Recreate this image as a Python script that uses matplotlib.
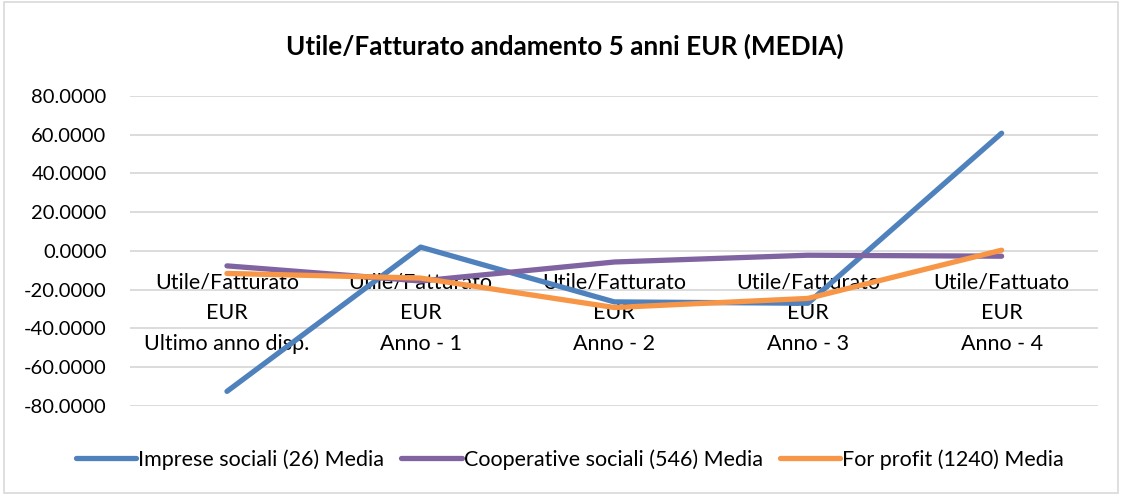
import matplotlib
matplotlib.use("Agg")
import matplotlib.pyplot as plt
from matplotlib.patches import Rectangle
from matplotlib.ticker import FuncFormatter

plt.rcParams['font.family'] = ['Lato', 'DejaVu Sans']

categories = [
    "Utile/Fatturato\nEUR\nUltimo anno disp.",
    "Utile/Fatturato\nEUR\nAnno - 1",
    "Utile/Fatturato\nEUR\nAnno - 2",
    "Utile/Fatturato\nEUR\nAnno - 3",
    "Utile/Fattuato\nEUR\nAnno - 4",
]
imprese = [-72.5, 2.0, -26.3, -27.0, 60.8]
cooperative = [-7.7, -15.5, -5.7, -2.2, -2.7]
for_profit = [-11.6, -14.0, -29.2, -24.5, 0.4]
series_names = ["Imprese sociali (26) Media", "Cooperative sociali (546) Media", "For profit (1240) Media"]
colors = ["#4F81BD", "#8064A2", "#F79646"]
yticks = [-80, -60, -40, -20, 0, 20, 40, 60, 80]

fig = plt.figure(figsize=(11.22, 4.95), dpi=100)
ax = fig.add_axes([0.116, 0.180, 0.863, 0.626])

x = list(range(len(categories)))
for vals, name, c in zip([imprese, cooperative, for_profit], series_names, colors):
    ax.plot(x, vals, color=c, lw=3.8, solid_capstyle='round', solid_joinstyle='round', label=name, zorder=3)

ax.set_xlim(-0.5, len(categories) - 0.5)
ax.set_ylim(-80, 80)
ax.set_yticks(yticks)
ax.yaxis.set_major_formatter(FuncFormatter(lambda v, p: f"{v:.4f}"))
ax.tick_params(axis='y', length=0, labelsize=14.5, pad=17, colors='#000000')
ax.set_xticks([])
ax.grid(axis='y', color='#D9D9D9', lw=1.3, zorder=0)
for s in ax.spines.values():
    s.set_visible(False)

for xi, lab in zip(x, categories):
    ax.annotate(lab, xy=(xi, 0), xycoords='data', xytext=(0, -15.5), textcoords='offset points',
                ha='center', va='top', fontsize=15.5, linespacing=1.68, zorder=1, color='#000000',
                annotation_clip=False)

fig.text(0.503, 0.907, "Utile/Fatturato andamento 5 anni EUR (MEDIA)", ha='center', va='center',
         fontsize=18.8, fontweight='bold')

leg = fig.legend(loc='center', bbox_to_anchor=(0.508, 0.072), ncol=3, frameon=False,
                 fontsize=15.5, handlelength=2.8, handletextpad=0.1, columnspacing=0.8)

fig.patches.append(Rectangle((0.004, 0.004), 0.992, 0.992, transform=fig.transFigure,
                             fill=False, edgecolor='#D9D9D9', lw=1.2))

fig.savefig("out.png", dpi=100)
